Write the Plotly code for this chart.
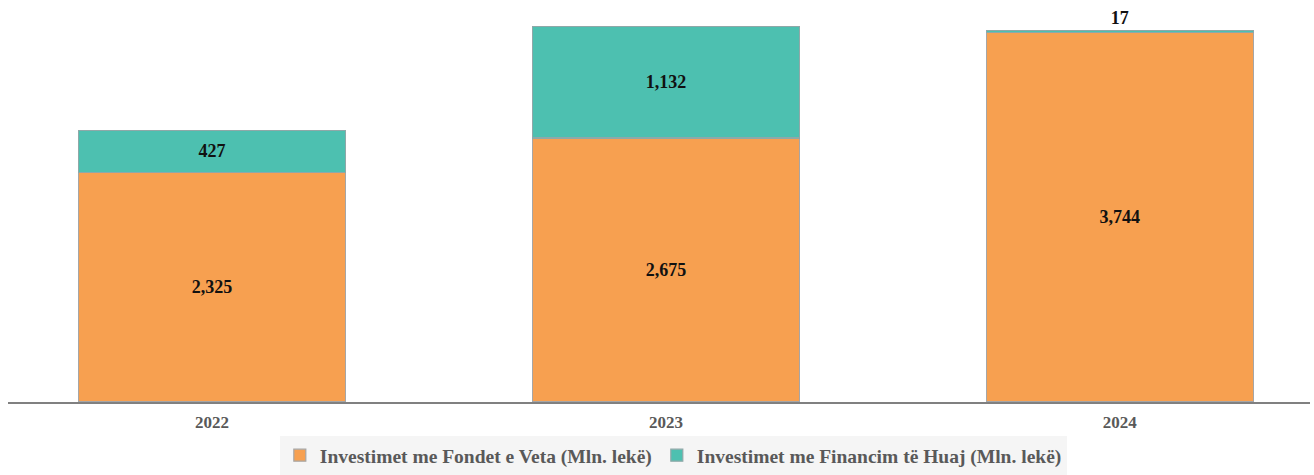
import plotly.graph_objects as go

years = ["2022", "2023", "2024"]
own_funds = [2325, 2675, 3744]
foreign_fin = [427, 1132, 17]
own_labels = ["2,325", "2,675", "3,744"]
foreign_labels = ["427", "1,132", "17"]
series_names = ["Investimet me Fondet e Veta (Mln. lekë)", "Investimet me Financim të Huaj (Mln. lekë)"]

label_font = dict(family="Liberation Serif", size=18, color="#111111")

fig = go.Figure()
fig.add_trace(go.Bar(
    x=years, y=own_funds, name=f"<b>{series_names[0]}</b>",
    marker=dict(color="#F7A050", line=dict(color="#A6A6A6", width=1.2)),
    text=[f"<b>{t}</b>" for t in own_labels], textposition="inside",
    insidetextanchor="middle", textfont=label_font, width=0.588,
    constraintext="none", hoverinfo="skip",
))
fig.add_trace(go.Bar(
    x=years, y=foreign_fin, name=f"<b>{series_names[1]}</b>",
    marker=dict(color="#4DC0B0", line=dict(color="#8FA8A8", width=1.2)),
    text=[f"<b>{t}</b>" for t in foreign_labels],
    textposition=["inside", "inside", "outside"],
    insidetextanchor="middle", textfont=label_font, outsidetextfont=label_font,
    width=0.588, constraintext="none", cliponaxis=False, hoverinfo="skip",
))

fig.update_layout(
    barmode="stack",
    width=1314, height=475,
    margin=dict(l=8, r=4, t=5, b=73, autoexpand=False),
    paper_bgcolor="white", plot_bgcolor="white",
    xaxis=dict(
        range=[-0.4495, 2.419], showgrid=False, showline=True,
        linecolor="#808080", linewidth=1.5, ticks="", automargin=False,
        tickfont=dict(family="Liberation Serif", size=17, color="#595959"),
        tickprefix="<b>", ticksuffix="</b>", ticklabelstandoff=4,
    ),
    yaxis=dict(range=[0, 4022], visible=False, showgrid=False, automargin=False),
    legend=dict(
        orientation="h", x=0.511, xanchor="center", xref="paper",
        y=0.0, yanchor="bottom", yref="container",
        bgcolor="#F5F5F5", font=dict(family="Liberation Serif", size=19.5, color="#595959"),
        traceorder="normal", itemwidth=30, tracegroupgap=0,
    ),
    showlegend=True,
)

fig.write_html(
    "out.html",
    config={"displayModeBar": False},
    post_script="document.body.style.margin='0';document.body.style.overflow='hidden';",
)
